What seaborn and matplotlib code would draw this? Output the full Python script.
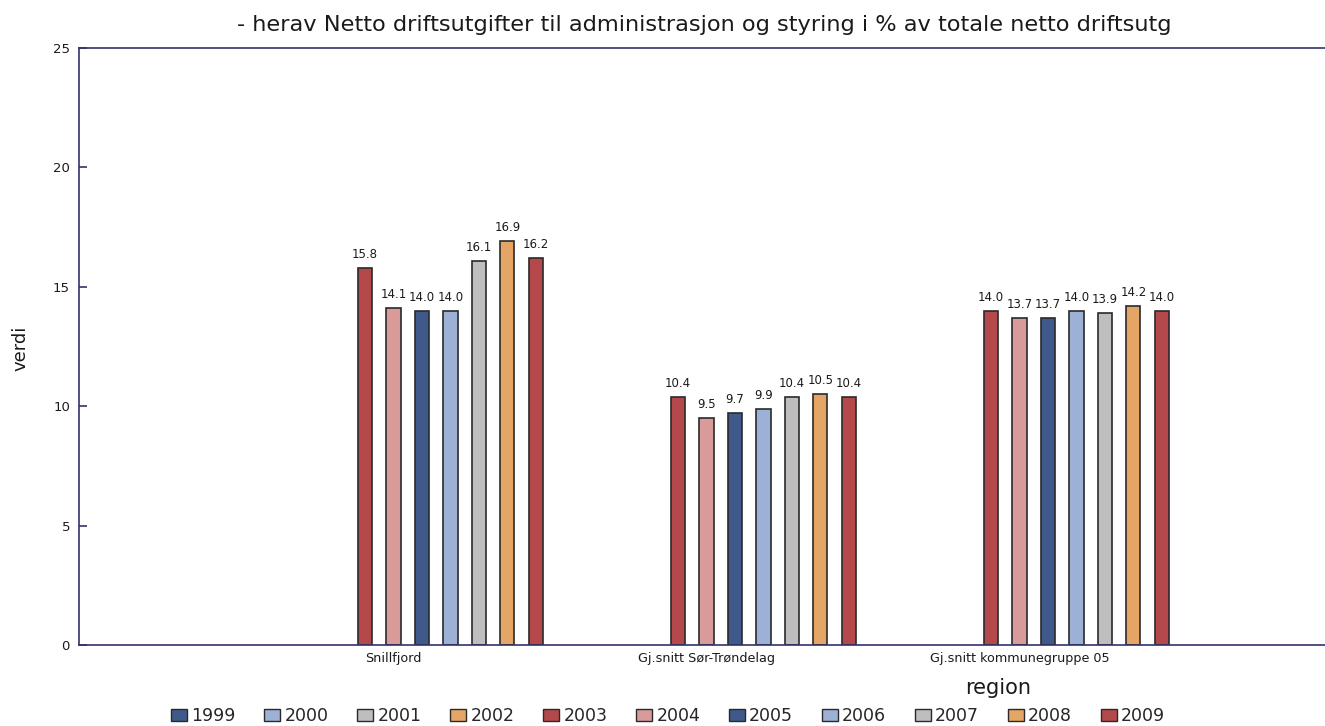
import numpy as np
import pandas as pd
import seaborn as sns
import matplotlib.pyplot as plt
from matplotlib.patches import Patch

regions = ['Snillfjord', 'Gj.snitt Sør-Trøndelag', 'Gj.snitt kommunegruppe 05']
years = ['1999', '2000', '2001', '2002', '2003', '2004', '2005', '2006', '2007', '2008', '2009']
# only 2003-2009 have values
data_years = ['2003', '2004', '2005', '2006', '2007', '2008', '2009']
snillfjord = [15.8, 14.1, 14.0, 14.0, 16.1, 16.9, 16.2]
sor_trondelag = [10.4, 9.5, 9.7, 9.9, 10.4, 10.5, 10.4]
kommunegruppe = [14.0, 13.7, 13.7, 14.0, 13.9, 14.2, 14.0]

base_colours = ['#3F5A8A', '#9DB0D6', '#BEBEBE', '#E5A565', '#B5484B', '#D99A9A']
palette = {y: base_colours[i % len(base_colours)] for i, y in enumerate(years)}

rows = []
for region, vals in zip(regions, [snillfjord, sor_trondelag, kommunegruppe]):
    for y, v in zip(data_years, vals):
        rows.append({'region': region, 'year': y, 'verdi': v})
df = pd.DataFrame(rows)

sns.set_theme(style='white')
plt.rcParams['font.family'] = ['DejaVu Sans']
navy = '#33336B'
txt = '#1a1a1a'

fig = plt.figure(figsize=(13.25, 7.26), dpi=100)
ax = fig.add_axes([79 / 1325, 1 - 645 / 726, 1246 / 1325, 597 / 726])

sns.barplot(data=df, x='region', y='verdi', hue='year', hue_order=years,
            order=regions, palette=palette, saturation=1, width=1.0, gap=0.5,
            edgecolor='#2a2a2a', linewidth=1.2, errorbar=None, legend=False, ax=ax)

for c in ax.containers:
    labels = ['%.1f' % v if not np.isnan(v) else '' for v in c.datavalues]
    ax.bar_label(c, labels=labels, padding=5, fontsize=8.5, color=txt)

ax.set_xlim(-1.005, 2.976)
ax.set_ylim(0, 25)
ax.set_yticks([0, 5, 10, 15, 20, 25])
ax.tick_params(axis='y', direction='in', length=6, width=1.2, color=navy,
               labelsize=9.5, labelcolor=txt, pad=6.5, left=True)
ax.tick_params(axis='x', length=0, labelsize=9.2, labelcolor=txt, pad=5)

for side in ['left', 'bottom', 'top']:
    ax.spines[side].set_color(navy)
    ax.spines[side].set_linewidth(1.2)
ax.spines['right'].set_visible(False)

ax.set_ylabel('')
ax.set_xlabel('')
fig.text(20 / 1325, 1 - 348 / 726, 'verdi', rotation=90, ha='center', va='center',
         fontsize=13, color=txt)
fig.text(998 / 1325, 1 - 688 / 726, 'region', ha='center', va='center', fontsize=15, color=txt)
fig.text(704 / 1325, 1 - 25 / 726,
         '- herav Netto driftsutgifter til administrasjon og styring i % av totale netto driftsutg',
         ha='center', va='center', fontsize=16.2, color=txt)

handles = [Patch(facecolor=palette[y], edgecolor='#2a2a2a', linewidth=1.0, label=y) for y in years]
fig.legend(handles=handles, loc='center', bbox_to_anchor=(668 / 1325, 1 - 716 / 726), ncol=11,
           frameon=False, fontsize=12.5, handlelength=0.92, handleheight=0.7,
           handletextpad=0.25, columnspacing=1.65)

fig.savefig('out.png', dpi=100)
